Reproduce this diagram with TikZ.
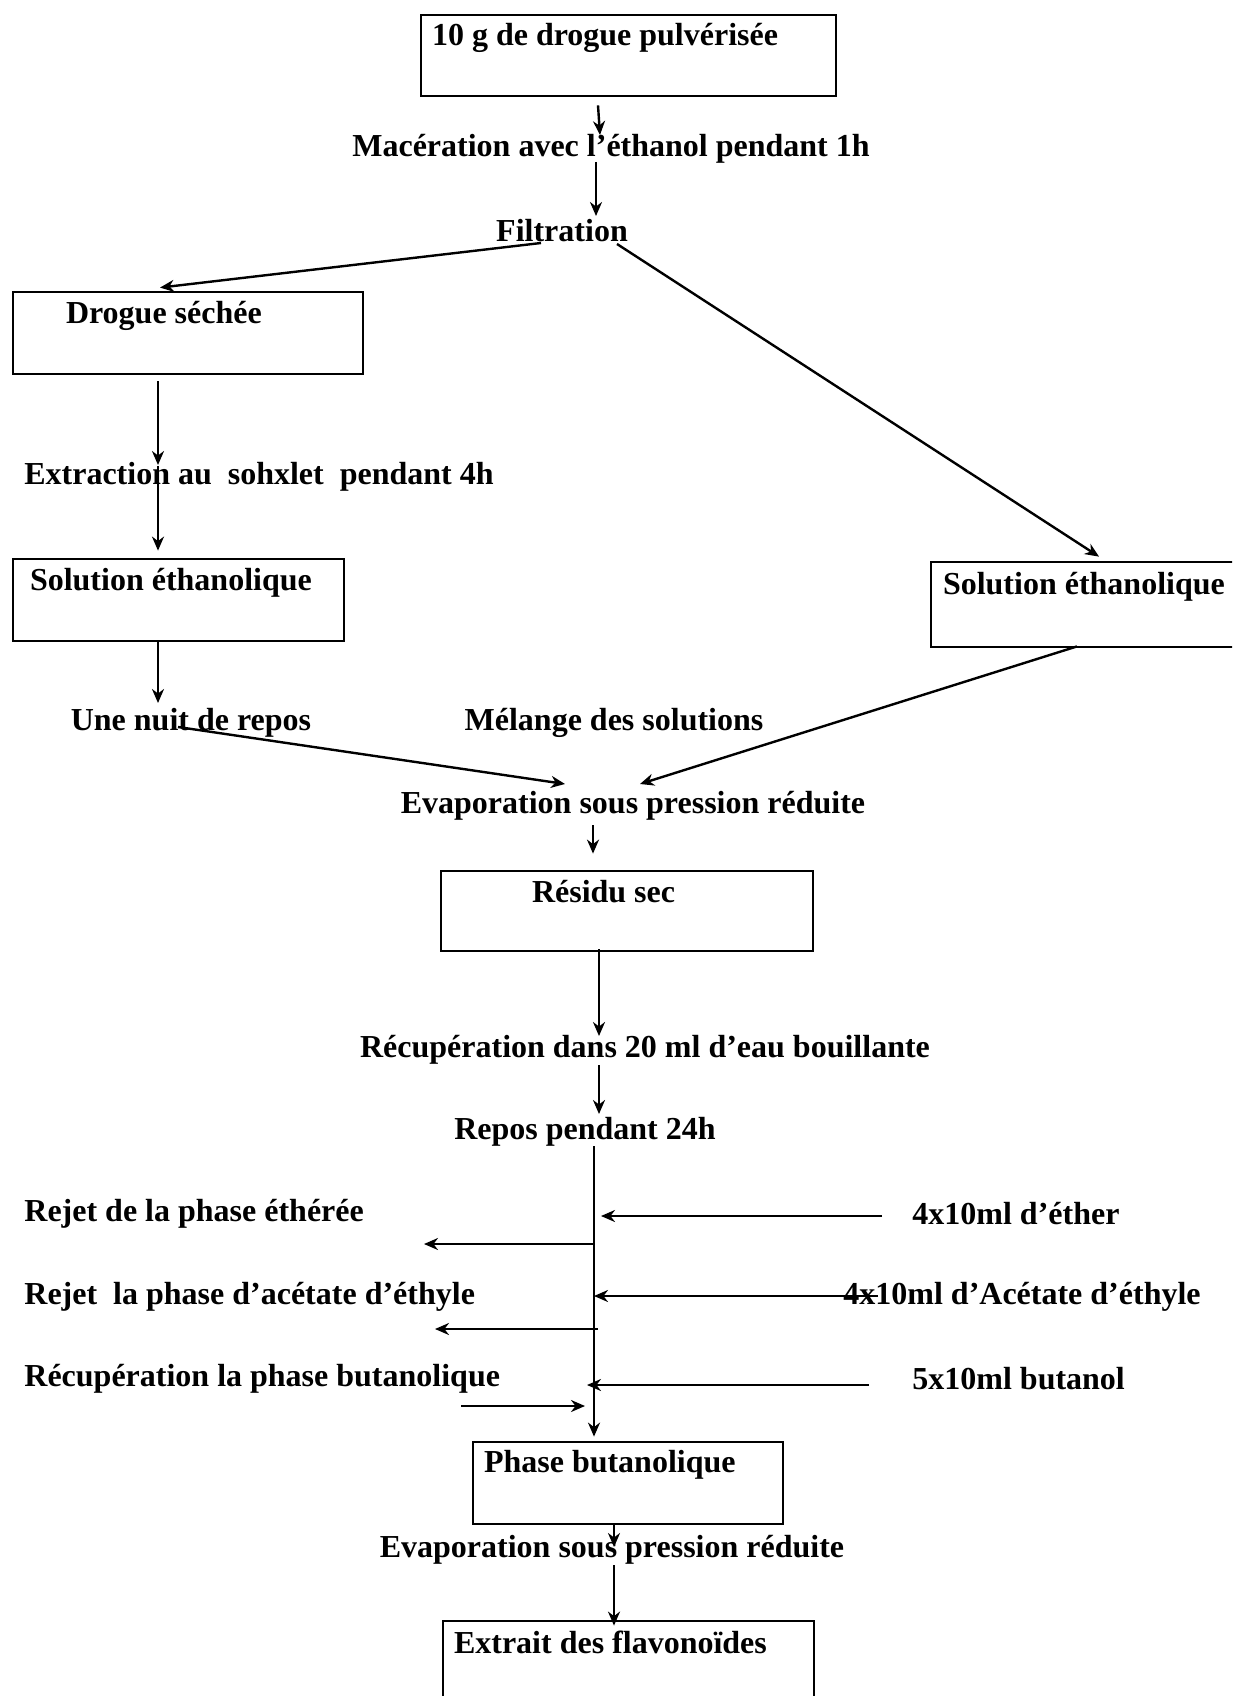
\documentclass[tikz,border=0pt]{standalone}
\usepackage{fontspec}
\setmainfont{Liberation Serif}
\usetikzlibrary{arrows.meta, positioning, calc}

\tikzset{
  box/.style={draw, line width=1.4pt, inner sep=0pt},
  lbl/.style={font=\fontsize{16pt}{19pt}\selectfont\bfseries, inner sep=0pt},
  arr/.style={-{Stealth[length=7pt,width=6pt]}, line width=1.2pt},
}

\begin{document}
\begin{tikzpicture}[x=0.5pt, y=-0.5pt]
  \useasboundingbox (0,0) rectangle (1232,1696);
  \clip (0,0) rectangle (1232,1696);

  % boxes
  \node[box, minimum width=207.5pt, minimum height=40.5pt] (b1) at (628.5,55.5) {};
  \node[box, minimum width=175pt, minimum height=41pt] (b2) at (188,333) {};
  \node[box, minimum width=165.5pt, minimum height=41pt] (b3) at (178.5,600) {};
  \node[box, minimum width=154.5pt, minimum height=42.5pt] (b4) at (1085.5,604.5) {};
  \node[box, minimum width=186pt, minimum height=40pt] (b5) at (627,911) {};
  \node[box, minimum width=155pt, minimum height=41pt] (b6) at (628,1483) {};
  \node[box, minimum width=185.5pt, minimum height=40.5pt] (b7) at (628.5,1661.5) {};

  \node[lbl, anchor=west] at ([shift={(12,24)}]b1.north west) {10 g de drogue pulvérisée};
  \node[lbl, anchor=west] at ([shift={(54,25)}]b2.north west) {Drogue séchée};
  \node[lbl, anchor=west] at ([shift={(18,25)}]b3.north west) {Solution éthanolique};
  \node[lbl, anchor=west] at ([shift={(13,26)}]b4.north west) {Solution éthanolique};
  \node[lbl, anchor=west] at ([shift={(92,22)}]b5.north west) {Résidu sec};
  \node[lbl, anchor=west] at ([shift={(12,24)}]b6.north west) {Phase butanolique};
  \node[lbl, anchor=west] at ([shift={(12,23)}]b7.north west) {Extrait des flavonoïdes};

  % steps
  \node[lbl] (mac) at (611,149) {Macération avec l’éthanol pendant 1h};
  \node[lbl] (filt) at (562,231) {Filtration};
  \node[lbl] (extr) at (259,477) {Extraction au\ \ sohxlet\ \ pendant 4h};
  \node[lbl] (nuit) at (191,723) {Une nuit de repos};
  \node[lbl] (mel) at (614,723) {Mélange des solutions};
  \node[lbl] (evap1) at (633,806) {Evaporation sous pression réduite};
  \node[lbl] (recup) at (645,1050) {Récupération dans 20 ml d’eau bouillante};
  \node[lbl] (repos) at (585,1132) {Repos pendant 24h};
  \node[lbl] (evap2) at (612,1550) {Evaporation sous pression réduite};

  % extraction liquide-liquide
  \node[lbl, anchor=west] (rej1) at (24,1214) {Rejet de la phase éthérée};
  \node[lbl, anchor=west] (rej2) at (24,1297) {Rejet\ \ la phase d’acétate d’éthyle};
  \node[lbl, anchor=west] (recbu) at (24,1379) {Récupération la phase butanolique};
  \node[lbl, anchor=west] (eth) at (912,1214) {4x10ml d’éther};
  \node[lbl, anchor=west] (acet) at (843,1297) {4x10ml d’Acétate d’éthyle};
  \node[lbl, anchor=west] (buta) at (912,1379) {5x10ml butanol};

  \coordinate (top) at (594,1146);
  \coordinate (in1) at (601,1216);
  \coordinate (out1) at (594,1244);
  \coordinate (end1) at (424,1244);
  \coordinate (in2) at (594,1296);
  \coordinate (out2) at (598,1329);
  \coordinate (end2) at (435,1329);
  \coordinate (in3) at (587,1385);
  \coordinate (out3) at (461,1406);
  \coordinate (end3) at (585,1406);

  % arrows
  \draw[arr] ([shift={(-30.5,8)}]b1.south) -- ([shift={(-11,-14)}]mac.center);
  \draw[arr] ([shift={(-15,13)}]mac.center) -- ([shift={(34,-15)}]filt.center);
  \draw[arr] ([shift={(-21,12)}]filt.center) -- ([shift={(-28,-3)}]b2.north);
  \draw[arr] ([shift={(55,13)}]filt.center) -- ([shift={(13.5,-4)}]b4.north);
  \draw[arr] ([shift={(-30,6)}]b2.south) -- ([shift={(-101,-12)}]extr.center);
  \draw[arr] ([shift={(-101,-11)}]extr.center) -- ([shift={(-20.5,-7)}]b3.north);
  \draw[arr] ([shift={(-20.5,0)}]b3.south) -- ([shift={(-33,-20)}]nuit.center);
  \draw[arr] ([shift={(-13,4)}]nuit.center) -- ([shift={(-68,-22)}]evap1.center);
  \draw[arr] ([shift={(-8.5,-2)}]b4.south) -- ([shift={(7,-22)}]evap1.center);
  \draw[arr] ([shift={(-40,19)}]evap1.center) -- ([shift={(-34,-16)}]b5.north);
  \draw[arr] ([shift={(-28,-3)}]b5.south) -- ([shift={(-46,-14)}]recup.center);
  \draw[arr] ([shift={(-46,15)}]recup.center) -- ([shift={(14,-18)}]repos.center);
  \draw[arr] (top) -- ([shift={(-34,-4)}]b6.north);
  \draw[arr] ([shift={(-30,2)}]eth.west) -- (in1);
  \draw[arr] (out1) -- (end1);
  \draw[arr] ([shift={(35,-1)}]acet.west) -- (in2);
  \draw[arr] (out2) -- (end2);
  \draw[arr] ([shift={(-43,6)}]buta.west) -- (in3);
  \draw[arr] (out3) -- (end3);
  \draw[arr] ([shift={(-14,-2)}]b6.south) -- ([shift={(2,-3)}]evap2.center);
  \draw[arr] ([shift={(2,15)}]evap2.center) -- ([shift={(-14.5,6)}]b7.north);
\end{tikzpicture}
\end{document}
